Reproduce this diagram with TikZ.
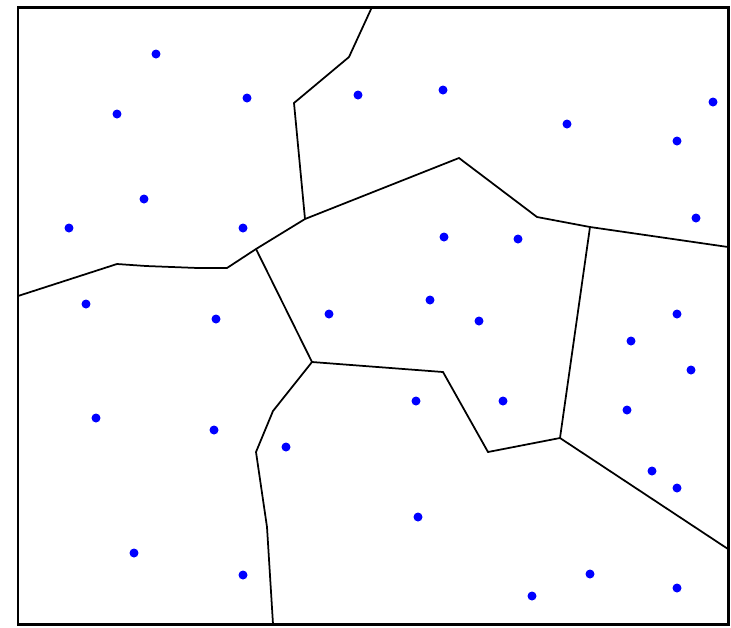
\documentclass[tikz,border=0pt]{standalone}
\usepackage{tikz}
\usetikzlibrary{positioning}

\begin{document}
\begin{tikzpicture}[
  x=0.02cm,y=-0.02cm,
  site/.style={circle,fill=blue,inner sep=0pt,minimum size=0.18cm},
  edge/.style={draw,line width=0.035cm,line join=miter}]
\useasboundingbox (0,0) rectangle (731,627);
\draw[line width=0.06cm] (18,7) rectangle (728,624);
% sites
\node[site] (s1) at (156,54) {}; \node[site] (s2) at (247,98) {}; \node[site] (s3) at (117,114) {};
\node[site] (s4) at (144,199) {}; \node[site] (s5) at (69,228) {}; \node[site] (s6) at (243,228) {};
\node[site] (s7) at (358,95) {}; \node[site] (s8) at (443,90) {}; \node[site] (s9) at (567,124) {};
\node[site] (s10) at (713,102) {}; \node[site] (s11) at (677,141) {}; \node[site] (s12) at (696,218) {};
\node[site] (s13) at (444,237) {}; \node[site] (s14) at (518,239) {}; \node[site] (s15) at (86,304) {};
\node[site] (s16) at (216,319) {}; \node[site] (s17) at (329,314) {}; \node[site] (s18) at (430,300) {};
\node[site] (s19) at (479,321) {}; \node[site] (s20) at (677,314) {}; \node[site] (s21) at (631,341) {};
\node[site] (s22) at (691,370) {}; \node[site] (s23) at (96,418) {}; \node[site] (s24) at (214,430) {};
\node[site] (s25) at (416,401) {}; \node[site] (s26) at (503,401) {}; \node[site] (s27) at (286,447) {};
\node[site] (s28) at (627,410) {}; \node[site] (s29) at (652,471) {}; \node[site] (s30) at (677,488) {};
\node[site] (s31) at (418,517) {}; \node[site] (s32) at (134,553) {}; \node[site] (s33) at (243,575) {};
\node[site] (s34) at (590,574) {}; \node[site] (s35) at (532,596) {}; \node[site] (s36) at (677,588) {};
% vertices
\coordinate (v1) at (305,219); \coordinate (v2) at (256,249); \coordinate (v3) at (590,227);
\coordinate (v4) at (560,438); \coordinate (v5) at (312,362);
% cell borders
\draw[edge] (372,7) -- (349,57) -- (294,103) -- (v1);
\draw[edge] (v1) -- (v2) -- (227,268) -- (198,268) -- (146,266) -- (117,264) -- (18,296);
\draw[edge] (v1) -- (459,158) -- (537,217) -- (v3) -- (728,247);
\draw[edge] (v3) -- (v4) -- (728,549);
\draw[edge] (v4) -- (488,452) -- (443,372) -- (v5);
\draw[edge] (v2) -- (v5);
\draw[edge] (v5) -- (273,411) -- (256,452) -- (267,527) -- (273,624);
\end{tikzpicture}
\end{document}
